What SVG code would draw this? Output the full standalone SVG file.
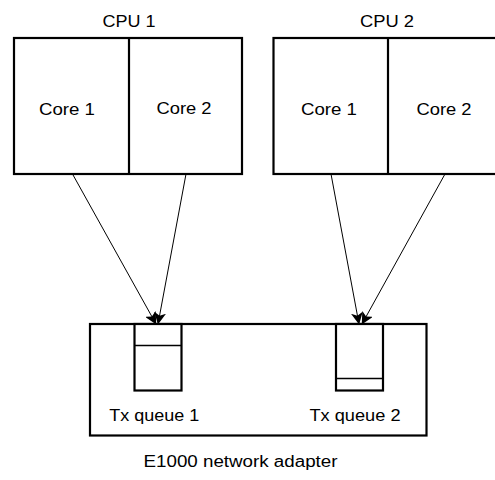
<svg xmlns="http://www.w3.org/2000/svg" width="495" height="480" viewBox="0 0 495 480">
<defs>
<marker id="arr" viewBox="0 0 12 12" refX="11.5" refY="6" markerWidth="12" markerHeight="12" markerUnits="userSpaceOnUse" orient="auto">
<path d="M0,0 L12,6 L0,12 L3,6 z" fill="#000"/>
</marker>
</defs>
<style>
.box{fill:#fff;stroke:#000;stroke-width:2.2}
.thin{fill:none;stroke:#000;stroke-width:1.3}
.conn{fill:none;stroke:#000;stroke-width:1}
text{font-family:"Liberation Sans",Arial,sans-serif;font-size:16px;fill:#000;text-anchor:middle}
</style>
<rect width="495" height="480" fill="#fff"/>
<g id="cpu1">
<text x="129" y="26.5" textLength="53" lengthAdjust="spacingAndGlyphs">CPU 1</text>
<rect class="box" x="14" y="38" width="228" height="136"/>
<line class="box" x1="129" y1="38" x2="129" y2="174"/>
<text x="67" y="115" textLength="56" lengthAdjust="spacingAndGlyphs">Core 1</text>
<text x="184" y="113.5" textLength="55" lengthAdjust="spacingAndGlyphs">Core 2</text>
</g>
<g id="cpu2">
<text x="387" y="26.5" textLength="54" lengthAdjust="spacingAndGlyphs">CPU 2</text>
<rect class="box" x="273.5" y="38" width="240" height="136"/>
<line class="box" x1="388" y1="38" x2="388" y2="174"/>
<text x="329" y="115" textLength="56" lengthAdjust="spacingAndGlyphs">Core 1</text>
<text x="444" y="115" textLength="55" lengthAdjust="spacingAndGlyphs">Core 2</text>
</g>
<g id="adapter">
<rect class="box" x="90" y="324" width="336.5" height="111.5"/>
<text x="240.5" y="467" textLength="194" lengthAdjust="spacingAndGlyphs">E1000 network adapter</text>
</g>
<g id="txq1">
<rect class="box" x="134.5" y="324" width="47" height="66.5"/>
<line class="thin" x1="134.5" y1="345.5" x2="181.5" y2="345.5"/>
<text x="154.2" y="420.5" textLength="90" lengthAdjust="spacingAndGlyphs">Tx queue 1</text>
</g>
<g id="txq2">
<rect class="box" x="336" y="324" width="47" height="66.5"/>
<line class="thin" x1="336" y1="378.5" x2="383" y2="378.5"/>
<text x="355" y="420.5" textLength="91" lengthAdjust="spacingAndGlyphs">Tx queue 2</text>
</g>
<g id="connectors">
<line class="conn" x1="72.5" y1="174" x2="156" y2="324" marker-end="url(#arr)"/>
<line class="conn" x1="186" y1="174" x2="158" y2="324" marker-end="url(#arr)"/>
<line class="conn" x1="331" y1="174" x2="359" y2="324" marker-end="url(#arr)"/>
<line class="conn" x1="445" y1="174" x2="362" y2="324" marker-end="url(#arr)"/>
</g>
</svg>
